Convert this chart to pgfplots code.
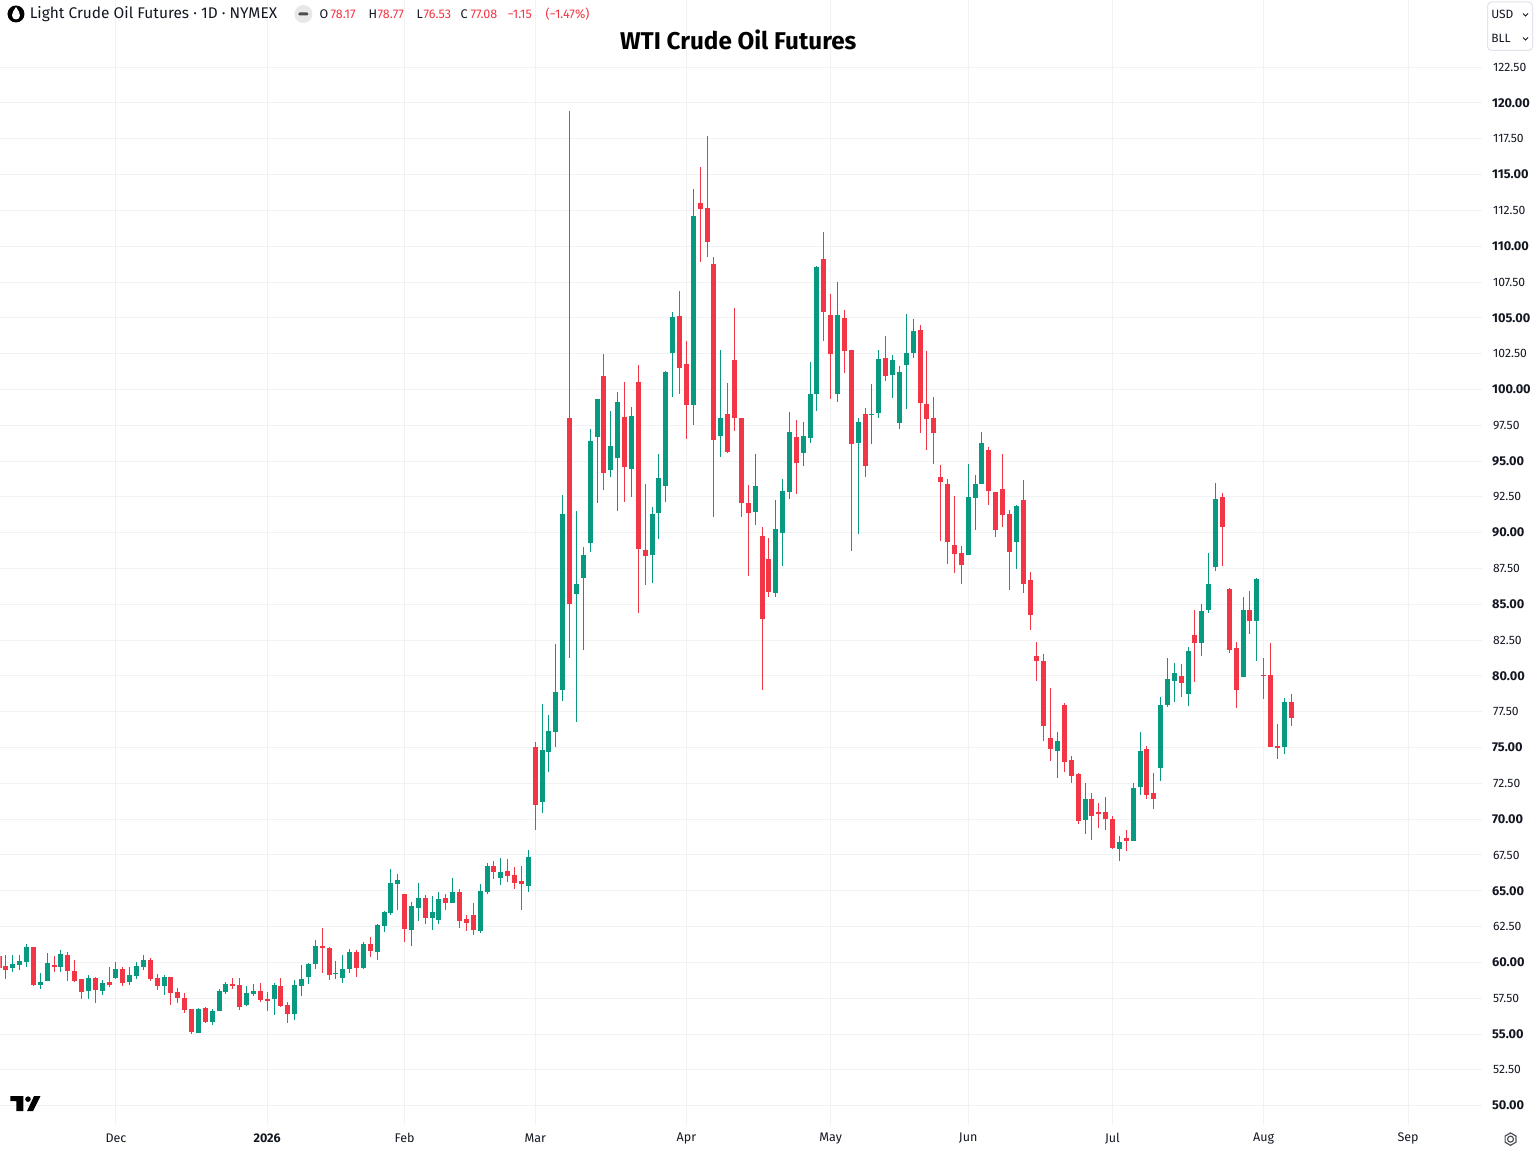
\documentclass[border=0pt]{standalone}
\usepackage{fontspec}
\setmainfont{Fira Sans}
\usepackage{pgfplots}
\usepackage{pgfplotstable}
\pgfplotsset{compat=1.18}
\definecolor{upc}{HTML}{089981}
\definecolor{dnc}{HTML}{F23645}
\definecolor{gridc}{HTML}{F1F2F4}
\definecolor{txt}{HTML}{131722}
\definecolor{boxc}{HTML}{E0E3EB}
\pgfplotstableread{
i o h l c
-1 60.44 60.44 59.63 59.63
0 59.74 60.51 58.84 59.47
4 61.07 61.07 58.35 58.42
7 59.81 60.44 59.33 59.67
9 60.51 60.72 58.70 59.40
10 59.40 60.16 58.63 58.70
11 58.84 58.84 57.44 57.93
13 58.91 58.98 57.16 58.07
15 58.63 59.67 58.28 58.42
17 59.53 59.67 58.35 58.56
21 60.16 60.30 58.70 58.84
22 58.91 59.19 58.07 58.35
24 58.98 58.98 57.02 57.86
25 57.93 58.21 57.16 57.51
26 57.51 57.86 56.47 56.67
27 56.74 56.74 55.00 55.14
29 56.81 56.88 55.77 55.84
33 58.49 58.91 58.14 58.35
34 58.42 58.91 56.67 56.88
37 58.00 58.56 57.23 57.37
38 57.44 57.93 56.60 57.30
40 58.35 58.91 56.88 56.95
41 57.02 57.23 55.77 56.40
46 61.16 62.42 59.28 61.02
47 61.02 61.09 58.79 59.14
51 60.74 60.88 59.00 59.63
53 61.30 61.79 60.40 60.81
58 64.79 64.79 61.44 62.35
61 64.51 64.72 62.70 63.12
64 64.51 64.79 63.67 64.16
66 64.93 65.14 62.42 62.91
67 63.05 63.33 62.21 62.77
68 63.33 64.16 61.93 62.28
71 66.74 67.09 65.84 66.33
73 66.40 67.23 65.63 66.05
74 66.12 66.67 65.14 65.56
75 65.70 66.74 63.67 65.49
77 75.05 75.40 69.26 71.00
82 98.00 119.44 81.26 85.02
87 100.93 102.47 92.98 94.16
90 98.07 100.51 92.14 94.58
92 100.51 101.70 84.40 88.86
93 88.79 93.40 86.35 88.37
98 105.12 106.86 99.67 101.49
99 101.77 103.37 96.53 98.91
101 113.00 115.51 108.88 112.58
102 112.65 117.67 109.23 110.28
103 108.74 109.23 91.07 96.44
105 98.26 100.44 95.53 95.60
106 102.05 105.67 97.07 98.00
107 97.98 97.98 91.07 92.05
108 92.05 93.30 86.95 91.35
110 89.74 90.37 79.00 83.95
111 88.14 89.60 85.49 85.84
115 96.65 97.84 92.67 94.84
119 109.09 110.98 103.37 105.40
120 105.19 106.65 99.33 102.47
122 104.98 105.53 101.14 102.67
123 102.74 102.74 88.72 96.19
125 98.28 98.70 93.88 94.65
128 102.19 103.72 100.58 100.93
133 104.14 104.49 96.95 99.05
134 98.98 102.67 95.77 97.93
135 98.00 99.47 94.79 96.95
136 93.86 94.70 89.40 93.51
137 93.37 93.72 87.79 89.33
138 89.12 92.53 87.16 88.49
139 88.56 89.05 86.40 87.72
143 95.74 95.95 91.91 92.88
144 92.81 92.81 89.67 90.16
145 93.02 95.47 90.37 91.21
146 91.28 91.56 85.98 88.63
148 92.26 93.65 85.77 86.40
149 86.67 87.23 83.19 84.23
150 81.42 82.40 79.67 81.07
151 81.07 81.56 75.49 76.53
152 75.70 79.19 74.09 74.93
154 78.00 78.14 73.26 74.02
155 74.16 74.44 72.49 72.98
156 73.12 73.19 69.63 69.84
158 71.44 71.86 68.58 70.19
159 70.53 71.16 69.35 70.33
160 70.47 71.58 69.21 69.98
161 69.98 70.19 67.95 68.02
163 68.65 69.21 67.81 68.51
166 74.93 75.14 71.44 71.72
167 71.86 73.19 70.74 71.44
171 80.02 80.86 78.56 79.53
173 82.88 84.63 79.60 82.33
177 92.51 92.79 87.70 90.42
178 86.09 86.16 81.63 81.84
179 81.98 82.40 77.79 79.05
181 84.63 85.95 82.95 83.86
183 80.09 81.28 78.42 80.02
184 80.09 82.33 75.07 75.07
185 75.14 76.67 74.23 75.00
187 78.17 78.77 76.53 77.08
}\downtable
\pgfplotstableread{
i o h l c
1 59.60 60.51 59.33 59.88
2 59.81 60.51 59.47 60.09
3 60.02 61.28 59.67 61.07
5 58.42 59.26 58.14 58.63
6 58.70 60.65 58.70 59.95
8 59.67 60.86 59.33 60.58
12 58.00 59.12 57.44 58.91
14 58.00 58.77 57.72 58.56
16 58.91 60.02 58.84 59.53
18 58.63 59.67 58.42 59.12
19 59.05 60.02 58.84 59.74
20 59.67 60.51 59.47 60.16
23 58.35 59.12 57.72 58.98
28 55.07 56.81 55.07 56.74
30 55.84 56.74 55.63 56.60
31 56.60 58.14 56.60 58.00
32 57.93 58.63 57.79 58.49
35 57.02 58.35 56.95 57.86
36 57.79 58.49 57.65 58.00
39 57.44 58.56 56.33 58.42
42 56.40 58.77 55.98 58.42
43 58.37 59.84 57.67 58.86
44 59.00 59.98 58.51 59.91
45 59.91 61.58 59.56 61.16
48 59.21 60.12 58.86 59.28
49 58.93 60.53 58.58 59.56
50 59.56 60.95 59.28 60.74
52 59.63 61.44 59.56 61.30
54 60.74 62.70 60.19 62.63
55 62.56 63.60 62.14 63.53
56 63.47 66.53 63.33 65.56
57 65.49 66.19 63.67 65.77
59 62.28 64.23 61.16 63.95
60 63.81 65.56 62.91 64.51
62 63.12 64.65 62.28 63.53
63 62.98 64.93 62.70 64.44
65 64.16 65.91 64.16 64.93
69 62.21 65.49 62.07 65.00
70 64.93 66.95 64.79 66.74
72 65.91 67.30 65.42 66.33
76 65.35 67.86 64.93 67.37
78 71.21 78.05 70.44 74.84
79 74.70 77.28 73.30 76.16
80 76.09 82.23 75.05 78.88
81 79.02 92.63 78.26 91.30
83 85.72 91.51 76.79 86.42
84 86.84 89.00 81.81 88.44
85 89.28 97.23 88.65 96.40
86 96.67 99.33 92.07 99.33
88 94.37 98.49 93.88 96.05
89 95.21 99.81 91.51 99.12
91 94.44 98.77 92.49 98.14
94 88.44 91.79 86.49 91.30
95 91.37 95.49 89.56 93.81
96 93.26 101.28 92.14 101.21
97 102.53 105.40 99.47 105.05
100 98.91 113.98 97.51 112.09
104 96.72 102.74 95.26 97.98
109 91.42 95.47 90.51 93.23
112 85.77 92.26 85.49 90.23
113 89.95 93.72 87.65 92.88
114 92.81 98.40 92.33 97.00
116 95.56 97.72 94.65 96.74
117 96.60 101.91 96.26 99.67
118 99.67 108.60 98.49 108.53
121 99.67 107.49 99.12 105.19
124 96.26 98.00 89.91 97.72
126 98.21 100.37 96.19 98.28
127 98.35 102.74 98.00 102.12
129 101.00 102.40 99.40 102.05
130 97.65 101.63 97.23 101.21
131 101.70 105.26 98.63 102.53
132 102.53 104.91 102.19 104.07
140 88.42 94.77 88.42 92.47
141 92.40 94.00 90.16 93.37
142 93.37 97.00 93.37 96.23
147 89.33 91.91 87.44 91.84
153 74.79 76.05 72.84 75.49
157 69.91 72.49 68.93 71.44
162 67.95 68.79 67.05 68.44
164 68.51 72.49 68.51 72.21
165 72.28 76.05 71.72 74.79
168 73.60 78.56 72.63 78.00
169 78.00 81.28 77.86 79.81
170 79.67 80.93 78.21 80.23
172 78.77 82.05 77.93 81.77
174 82.33 85.05 81.42 84.56
175 84.63 88.60 84.42 86.44
176 87.63 93.49 87.35 92.37
180 79.95 85.53 79.95 84.63
182 83.86 86.86 81.07 86.79
186 75.07 78.49 74.58 78.21
}\uptable
\begin{document}
\begin{tikzpicture}
\begin{scope}[x=0.75pt,y=-0.75pt]
\useasboundingbox (0,0) rectangle (1537,1153);
\end{scope}
\begin{axis}[
  at={(0pt,0pt)}, anchor=north west,
  scale only axis, width=1111.5pt, height=843.75pt,
  xmin=-0.8, xmax=214.76, ymin=48.639, ymax=127.153,
  axis line style={draw=none}, major tick length=0pt, tick style={draw=none},
  xmajorgrids, ymajorgrids,
  grid style={gridc, line width=0.75pt},
  axis on top=false,
  xtick={16,38,58,77,99,120,140,161,183,204},
  xticklabels={Dec,\textbf{2026},Feb,Mar,Apr,May,Jun,Jul,Aug,Sep},
  x tick label style={anchor=center, yshift=-9.8pt, font=\fontsize{9.4pt}{11pt}\selectfont, text=txt, inner sep=0pt},
  ytick={50,55,...,120},
  yticklabel pos=right,
  y tick label style={anchor=west, xshift=7.4pt, inner sep=0pt, text=txt,
    font=\fontsize{9.6pt}{11pt}\selectfont\bfseries,
    /pgf/number format/assume math mode=true, /pgf/number format/fixed, /pgf/number format/fixed zerofill, /pgf/number format/precision=2, /pgf/number format/1000 sep={}},
  extra y ticks={52.5,57.5,62.5,67.5,72.5,77.5,82.5,87.5,92.5,97.5,102.5,107.5,112.5,117.5,122.5},
  extra y tick style={y tick label style={xshift=0.8pt, font=\fontsize{9.1pt}{11pt}\selectfont}},
  title={\textbf{WTI Crude Oil Futures}},
  title style={at={(axis description cs:0.498,0.9582)}, anchor=center, inner sep=0pt, text=black, font=\fontsize{18.2pt}{22pt}\selectfont},
]
% wicks
\addplot[draw=none, mark=none, forget plot, error bars/.cd, y dir=both, y explicit, error mark=none, error bar style={dnc, line width=0.75pt}]
  table[x=i, y=o, y error plus expr=\thisrow{h}-\thisrow{o}, y error minus expr=\thisrow{o}-\thisrow{l}] {\downtable};
\addplot[draw=none, mark=none, forget plot, error bars/.cd, y dir=both, y explicit, error mark=none, error bar style={upc, line width=0.75pt}]
  table[x=i, y=o, y error plus expr=\thisrow{h}-\thisrow{o}, y error minus expr=\thisrow{o}-\thisrow{l}] {\uptable};
% bodies
\addplot[draw=none, mark=none, forget plot, error bars/.cd, y dir=plus, y explicit, error mark=none, error bar style={dnc, line width=3.75pt}]
  table[x=i, y=c, y error plus expr=\thisrow{o}-\thisrow{c}, y error minus expr=0] {\downtable};
\addplot[draw=none, mark=none, forget plot, error bars/.cd, y dir=plus, y explicit, error mark=none, error bar style={upc, line width=3.75pt}]
  table[x=i, y=o, y error plus expr=\thisrow{c}-\thisrow{o}, y error minus expr=0] {\uptable};
\end{axis}
\begin{scope}[x=0.75pt,y=-0.75pt]
  % header symbol
  \fill[black] (15.5,13.5) circle (8.5);
  \fill[white] (15.5,6.5) .. controls (13,10.5) and (11.5,12.5) .. (11.5,15) .. controls (11.5,17.5) and (13.5,19) .. (15.5,19) .. controls (17.5,19) and (19.5,17.5) .. (19.5,15) .. controls (19.5,12.5) and (18,10.5) .. (15.5,6.5) -- cycle;
  \node[anchor=west, inner sep=0pt, text=txt, font=\fontsize{11.6pt}{14pt}\selectfont] at (29,13.5) {Light Crude Oil Futures · 1D · NYMEX};
  \fill[black!9] (303,13.5) circle (9);
  \fill[black!70, rounded corners=1pt] (298,12) rectangle (308,15);
  \begin{scope}[every node/.style={anchor=west, inner sep=0pt, font=\fontsize{9.4pt}{11pt}\selectfont}]
    \node[text=txt] at (319,13.5) {O};
    \node[text=dnc] at (330,13.5) {78.17};
    \node[text=txt] at (368,13.5) {H};
    \node[text=dnc] at (377,13.5) {78.77};
    \node[text=txt] at (416,13.5) {L};
    \node[text=dnc] at (423,13.5) {76.53};
    \node[text=txt] at (460,13.5) {C};
    \node[text=dnc] at (470,13.5) {77.08};
    \node[text=dnc] at (507,13.5) {−1.15};
    \node[text=dnc] at (545,13.5) {(−1.47\%)};
  \end{scope}
  % currency / unit box
  \filldraw[fill=white, draw=boxc, line width=0.75pt, rounded corners=3pt] (1487.5,1.5) rectangle (1532.5,50);
  \node[anchor=west, inner sep=0pt, text=txt, font=\fontsize{9pt}{11pt}\selectfont] at (1491,14) {USD};
  \node[anchor=west, inner sep=0pt, text=txt, font=\fontsize{9pt}{11pt}\selectfont] at (1491,38) {BLL};
  \draw[txt, line width=0.75pt] (1523,13) -- (1525.5,15.5) -- (1528,13);
  \draw[txt, line width=0.75pt] (1523,37) -- (1525.5,39.5) -- (1528,37);
  % logo
  \fill[black] (10,1096) -- (23,1096) -- (23,1111) -- (16,1111) -- (16,1101) -- (10,1101) -- cycle;
  \fill[black] (27.5,1099) circle (2.8);
  \fill[black] (33.5,1096) -- (40,1096) -- (32.5,1111) -- (26.5,1111) -- cycle;
  % settings
  \draw[txt!75, line width=0.9pt] (1510.5,1139) circle (3);
  \draw[txt!75, line width=0.9pt] (1510.5,1132.8) -- (1515.9,1135.9) -- (1515.9,1142.1) -- (1510.5,1145.2) -- (1505.1,1142.1) -- (1505.1,1135.9) -- cycle;
\end{scope}
\end{tikzpicture}
\end{document}
